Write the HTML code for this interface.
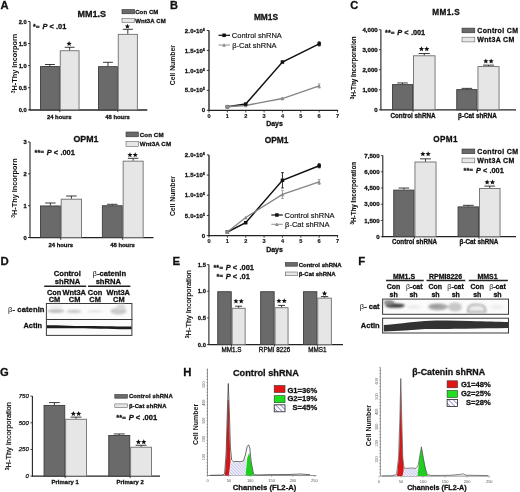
<!DOCTYPE html><html><head><meta charset="utf-8"><style>
html,body{margin:0;padding:0;background:#fff;}
svg{display:block;font-family:"Liberation Sans",sans-serif;will-change:transform;filter:blur(0.3px);}
</style></head><body>
<svg width="520" height="492" viewBox="0 0 520 492">
<rect width="520" height="492" fill="#fff"/>
<text x="0.6" y="8.8" font-size="11.2" text-anchor="start" font-weight="bold" fill="#111" stroke="#111" stroke-width="0.28" >A</text>
<text x="91.7" y="16.7" font-size="9" text-anchor="middle" font-weight="bold" fill="#111" stroke="#111" stroke-width="0.28" >MM1.S</text>
<line x1="30" y1="21.5" x2="30" y2="110.3" stroke="#222" stroke-width="1.1"/>
<line x1="28" y1="109.8" x2="30" y2="109.8" stroke="#222" stroke-width="0.9"/>
<text x="26.7" y="111.88799999999999" font-size="5.8" text-anchor="end" font-weight="bold" fill="#111" stroke="#111" stroke-width="0.28" >0.0</text>
<line x1="28" y1="87.725" x2="30" y2="87.725" stroke="#222" stroke-width="0.9"/>
<text x="26.7" y="89.81299999999999" font-size="5.8" text-anchor="end" font-weight="bold" fill="#111" stroke="#111" stroke-width="0.28" >0.5</text>
<line x1="28" y1="65.65" x2="30" y2="65.65" stroke="#222" stroke-width="0.9"/>
<text x="26.7" y="67.738" font-size="5.8" text-anchor="end" font-weight="bold" fill="#111" stroke="#111" stroke-width="0.28" >1.0</text>
<line x1="28" y1="43.575" x2="30" y2="43.575" stroke="#222" stroke-width="0.9"/>
<text x="26.7" y="45.663000000000004" font-size="5.8" text-anchor="end" font-weight="bold" fill="#111" stroke="#111" stroke-width="0.28" >1.5</text>
<line x1="28" y1="21.5" x2="30" y2="21.5" stroke="#222" stroke-width="0.9"/>
<text x="26.7" y="23.588" font-size="5.8" text-anchor="end" font-weight="bold" fill="#111" stroke="#111" stroke-width="0.28" >2.0</text>
<line x1="29.5" y1="110.0" x2="147.3" y2="110.0" stroke="#222" stroke-width="1.3"/>
<line x1="59.8" y1="109.8" x2="59.8" y2="112.1" stroke="#222" stroke-width="0.9"/>
<line x1="117.8" y1="109.8" x2="117.8" y2="112.1" stroke="#222" stroke-width="0.9"/>
<rect x="40.45" y="66.55" width="18.9" height="43.25" fill="#6a6a6a" stroke="#3c3c3c" stroke-width="0.9"/>
<line x1="49.9" y1="66.1" x2="49.9" y2="64.5" stroke="#222" stroke-width="0.9"/>
<line x1="44.95" y1="64.5" x2="54.849999999999994" y2="64.5" stroke="#222" stroke-width="0.9"/>
<rect x="60.25" y="50.75" width="18.800000000000004" height="59.05" fill="#e6e6e6" stroke="#6e6e6e" stroke-width="0.9"/>
<line x1="69.65" y1="50.3" x2="69.65" y2="47.3" stroke="#222" stroke-width="0.9"/>
<line x1="64.72500000000001" y1="47.3" x2="74.575" y2="47.3" stroke="#222" stroke-width="0.9"/>
<rect x="98.55" y="66.65" width="18.800000000000004" height="43.14999999999999" fill="#6a6a6a" stroke="#3c3c3c" stroke-width="0.9"/>
<line x1="107.94999999999999" y1="66.2" x2="107.94999999999999" y2="62.3" stroke="#222" stroke-width="0.9"/>
<line x1="103.02499999999999" y1="62.3" x2="112.87499999999999" y2="62.3" stroke="#222" stroke-width="0.9"/>
<rect x="118.25" y="34.35" width="19.100000000000016" height="75.45" fill="#e6e6e6" stroke="#6e6e6e" stroke-width="0.9"/>
<line x1="127.80000000000001" y1="33.9" x2="127.80000000000001" y2="29.3" stroke="#222" stroke-width="0.9"/>
<line x1="122.80000000000001" y1="29.3" x2="132.8" y2="29.3" stroke="#222" stroke-width="0.9"/>
<polygon points="69.10,41.05 69.83,42.80 71.72,42.95 70.28,44.18 70.72,46.02 69.10,45.04 67.48,46.02 67.92,44.18 66.48,42.95 68.37,42.80" fill="#111"/>
<polygon points="127.40,23.65 128.13,25.40 130.02,25.55 128.58,26.78 129.02,28.62 127.40,27.64 125.78,28.62 126.22,26.78 124.78,25.55 126.67,25.40" fill="#111"/>
<rect x="122" y="9.5" width="12.6" height="4.3" fill="#6a6a6a" stroke="#333" stroke-width="0.6"/>
<rect x="122" y="18.5" width="12.6" height="4" fill="#e6e6e6" stroke="#666" stroke-width="0.6"/>
<text x="135.2" y="13.9" font-size="6.0" text-anchor="start" font-weight="bold" fill="#111" stroke="#111" stroke-width="0.28" letter-spacing="0.1">Con CM</text>
<text x="135.2" y="22.7" font-size="6.0" text-anchor="start" font-weight="bold" fill="#111" stroke="#111" stroke-width="0.28" letter-spacing="0.1">Wnt3A CM</text>
<text x="39.5" y="28.599999999999998" font-size="5.920000000000001" text-anchor="end" font-weight="bold" fill="#111" stroke="#111" stroke-width="0.28" ><tspan font-size="7.2" dy="0.3" letter-spacing="0.2">*</tspan><tspan dy="-0.3">=</tspan></text>
<text x="42.4" y="28.9" font-size="7.4" text-anchor="start" font-weight="bold" fill="#111" stroke="#111" stroke-width="0.28" font-style="italic">P</text>
<text x="49.4" y="28.9" font-size="7.4" text-anchor="start" font-weight="bold" fill="#111" stroke="#111" stroke-width="0.28" >&lt;</text>
<text x="56.0" y="28.9" font-size="7.4" text-anchor="start" font-weight="bold" fill="#111" stroke="#111" stroke-width="0.28" >.01</text>
<text transform="translate(17.4,63.5) rotate(-90)" font-size="7.3" text-anchor="middle" font-weight="bold" fill="#111" stroke="#111" stroke-width="0.01"><tspan font-size="5" dy="-2.2">3</tspan><tspan dy="2.2">H-Thy Incorporn</tspan></text>
<text x="59.2" y="118.6" font-size="5.9" text-anchor="middle" font-weight="bold" fill="#111" stroke="#111" stroke-width="0.28" >24 hours</text>
<text x="117.5" y="118.6" font-size="5.9" text-anchor="middle" font-weight="bold" fill="#111" stroke="#111" stroke-width="0.28" >48 hours</text>
<text x="86" y="141.8" font-size="8.8" text-anchor="middle" font-weight="bold" fill="#111" stroke="#111" stroke-width="0.28" >OPM1</text>
<line x1="30" y1="142" x2="30" y2="238.0" stroke="#222" stroke-width="1.1"/>
<line x1="28" y1="237.5" x2="30" y2="237.5" stroke="#222" stroke-width="0.9"/>
<text x="26.7" y="239.588" font-size="5.8" text-anchor="end" font-weight="bold" fill="#111" stroke="#111" stroke-width="0.28" >0</text>
<line x1="28" y1="205.66666666666666" x2="30" y2="205.66666666666666" stroke="#222" stroke-width="0.9"/>
<text x="26.7" y="207.75466666666665" font-size="5.8" text-anchor="end" font-weight="bold" fill="#111" stroke="#111" stroke-width="0.28" >1</text>
<line x1="28" y1="173.83333333333334" x2="30" y2="173.83333333333334" stroke="#222" stroke-width="0.9"/>
<text x="26.7" y="175.92133333333334" font-size="5.8" text-anchor="end" font-weight="bold" fill="#111" stroke="#111" stroke-width="0.28" >2</text>
<line x1="28" y1="142.0" x2="30" y2="142.0" stroke="#222" stroke-width="0.9"/>
<text x="26.7" y="144.088" font-size="5.8" text-anchor="end" font-weight="bold" fill="#111" stroke="#111" stroke-width="0.28" >3</text>
<line x1="29.5" y1="237.7" x2="153.5" y2="237.7" stroke="#222" stroke-width="1.3"/>
<line x1="60.75" y1="237.5" x2="60.75" y2="239.8" stroke="#222" stroke-width="0.9"/>
<line x1="122.7" y1="237.5" x2="122.7" y2="239.8" stroke="#222" stroke-width="0.9"/>
<rect x="40.45" y="205.95" width="19.85" height="31.55" fill="#6a6a6a" stroke="#3c3c3c" stroke-width="0.9"/>
<line x1="50.375" y1="205.5" x2="50.375" y2="203" stroke="#222" stroke-width="0.9"/>
<line x1="45.1875" y1="203" x2="55.5625" y2="203" stroke="#222" stroke-width="0.9"/>
<rect x="61.2" y="199.2" width="20.35" height="38.3" fill="#e6e6e6" stroke="#6e6e6e" stroke-width="0.9"/>
<line x1="71.375" y1="198.75" x2="71.375" y2="196" stroke="#222" stroke-width="0.9"/>
<line x1="66.0625" y1="196" x2="76.6875" y2="196" stroke="#222" stroke-width="0.9"/>
<rect x="102.35000000000001" y="205.75" width="19.9" height="31.74999999999999" fill="#6a6a6a" stroke="#3c3c3c" stroke-width="0.9"/>
<line x1="112.30000000000001" y1="205.3" x2="112.30000000000001" y2="204.3" stroke="#222" stroke-width="0.9"/>
<line x1="107.10000000000001" y1="204.3" x2="117.50000000000001" y2="204.3" stroke="#222" stroke-width="0.9"/>
<rect x="123.15" y="161.14999999999998" width="19.999999999999993" height="76.35000000000001" fill="#e6e6e6" stroke="#6e6e6e" stroke-width="0.9"/>
<line x1="133.15" y1="160.7" x2="133.15" y2="158.3" stroke="#222" stroke-width="0.9"/>
<line x1="127.92500000000001" y1="158.3" x2="138.375" y2="158.3" stroke="#222" stroke-width="0.9"/>
<polygon points="129.95,152.15 130.68,153.90 132.57,154.05 131.13,155.28 131.57,157.12 129.95,156.14 128.33,157.12 128.77,155.28 127.33,154.05 129.22,153.90" fill="#111"/>
<polygon points="135.25,152.15 135.98,153.90 137.87,154.05 136.43,155.28 136.87,157.12 135.25,156.14 133.63,157.12 134.07,155.28 132.63,154.05 134.52,153.90" fill="#111"/>
<rect x="126" y="132" width="12.4" height="4.8" fill="#6a6a6a" stroke="#333" stroke-width="0.6"/>
<rect x="126" y="141.5" width="12.4" height="4.8" fill="#e6e6e6" stroke="#666" stroke-width="0.6"/>
<text x="139.7" y="136.5" font-size="6.2" text-anchor="start" font-weight="bold" fill="#111" stroke="#111" stroke-width="0.28" letter-spacing="0.1">Con CM</text>
<text x="139.7" y="146.1" font-size="6.2" text-anchor="start" font-weight="bold" fill="#111" stroke="#111" stroke-width="0.28" letter-spacing="0.1">Wnt3A CM</text>
<text x="43.9" y="154.39999999999998" font-size="5.920000000000001" text-anchor="end" font-weight="bold" fill="#111" stroke="#111" stroke-width="0.28" ><tspan font-size="7.2" dy="0.3" letter-spacing="0.2">**</tspan><tspan dy="-0.3">=</tspan></text>
<text x="46.8" y="154.7" font-size="7.4" text-anchor="start" font-weight="bold" fill="#111" stroke="#111" stroke-width="0.28" font-style="italic">P</text>
<text x="53.8" y="154.7" font-size="7.4" text-anchor="start" font-weight="bold" fill="#111" stroke="#111" stroke-width="0.28" >&lt;</text>
<text x="60.4" y="154.7" font-size="7.4" text-anchor="start" font-weight="bold" fill="#111" stroke="#111" stroke-width="0.28" >.001</text>
<text transform="translate(17.4,188) rotate(-90)" font-size="7.3" text-anchor="middle" font-weight="bold" fill="#111" stroke="#111" stroke-width="0.01"><tspan font-size="5" dy="-2.2">3</tspan><tspan dy="2.2">H-Thy Incorporn</tspan></text>
<text x="60.75" y="246.5" font-size="5.9" text-anchor="middle" font-weight="bold" fill="#111" stroke="#111" stroke-width="0.28" >24 hours</text>
<text x="122.5" y="246.6" font-size="5.9" text-anchor="middle" font-weight="bold" fill="#111" stroke="#111" stroke-width="0.28" >48 hours</text>
<text x="169.9" y="8.8" font-size="11" text-anchor="start" font-weight="bold" fill="#111" stroke="#111" stroke-width="0.28" >B</text>
<line x1="209.0" y1="30.5" x2="209.0" y2="110.89999999999999" stroke="#222" stroke-width="1.35"/>
<line x1="208.4" y1="110.3" x2="338.12" y2="110.3" stroke="#222" stroke-width="1.35"/>
<line x1="209.0" y1="110.3" x2="209.0" y2="112.5" stroke="#222" stroke-width="0.8"/>
<text x="209.0" y="117.7" font-size="5.6" text-anchor="middle" font-weight="bold" fill="#111" stroke="#111" stroke-width="0.15" >0</text>
<line x1="227.36" y1="110.3" x2="227.36" y2="112.5" stroke="#222" stroke-width="0.8"/>
<text x="227.36" y="117.7" font-size="5.6" text-anchor="middle" font-weight="bold" fill="#111" stroke="#111" stroke-width="0.15" >1</text>
<line x1="245.72" y1="110.3" x2="245.72" y2="112.5" stroke="#222" stroke-width="0.8"/>
<text x="245.72" y="117.7" font-size="5.6" text-anchor="middle" font-weight="bold" fill="#111" stroke="#111" stroke-width="0.15" >2</text>
<line x1="264.08" y1="110.3" x2="264.08" y2="112.5" stroke="#222" stroke-width="0.8"/>
<text x="264.08" y="117.7" font-size="5.6" text-anchor="middle" font-weight="bold" fill="#111" stroke="#111" stroke-width="0.15" >3</text>
<line x1="282.44" y1="110.3" x2="282.44" y2="112.5" stroke="#222" stroke-width="0.8"/>
<text x="282.44" y="117.7" font-size="5.6" text-anchor="middle" font-weight="bold" fill="#111" stroke="#111" stroke-width="0.15" >4</text>
<line x1="300.8" y1="110.3" x2="300.8" y2="112.5" stroke="#222" stroke-width="0.8"/>
<text x="300.8" y="117.7" font-size="5.6" text-anchor="middle" font-weight="bold" fill="#111" stroke="#111" stroke-width="0.15" >5</text>
<line x1="319.15999999999997" y1="110.3" x2="319.15999999999997" y2="112.5" stroke="#222" stroke-width="0.8"/>
<text x="319.15999999999997" y="117.7" font-size="5.6" text-anchor="middle" font-weight="bold" fill="#111" stroke="#111" stroke-width="0.15" >6</text>
<line x1="337.52" y1="110.3" x2="337.52" y2="112.5" stroke="#222" stroke-width="0.8"/>
<text x="337.52" y="117.7" font-size="5.6" text-anchor="middle" font-weight="bold" fill="#111" stroke="#111" stroke-width="0.15" >7</text>
<line x1="206.8" y1="110.3" x2="209.0" y2="110.3" stroke="#222" stroke-width="0.9"/>
<text x="205.2" y="112.39999999999999" font-size="6.0" text-anchor="end" font-weight="bold" fill="#111" stroke="#111" stroke-width="0.28" letter-spacing="0.2">0</text>
<line x1="206.8" y1="90.35" x2="209.0" y2="90.35" stroke="#222" stroke-width="0.9"/>
<text x="205.2" y="92.44999999999999" font-size="6.0" text-anchor="end" font-weight="bold" fill="#111" stroke="#111" stroke-width="0.28" letter-spacing="0.2">5.0•10<tspan font-size='3.4' dy='-2'>5</tspan></text>
<line x1="206.8" y1="70.4" x2="209.0" y2="70.4" stroke="#222" stroke-width="0.9"/>
<text x="205.2" y="72.5" font-size="6.0" text-anchor="end" font-weight="bold" fill="#111" stroke="#111" stroke-width="0.28" letter-spacing="0.2">1.0•10<tspan font-size='3.4' dy='-2'>6</tspan></text>
<line x1="206.8" y1="50.45" x2="209.0" y2="50.45" stroke="#222" stroke-width="0.9"/>
<text x="205.2" y="52.550000000000004" font-size="6.0" text-anchor="end" font-weight="bold" fill="#111" stroke="#111" stroke-width="0.28" letter-spacing="0.2">1.5•10<tspan font-size='3.4' dy='-2'>6</tspan></text>
<line x1="206.8" y1="30.5" x2="209.0" y2="30.5" stroke="#222" stroke-width="0.9"/>
<text x="205.2" y="32.6" font-size="6.0" text-anchor="end" font-weight="bold" fill="#111" stroke="#111" stroke-width="0.28" letter-spacing="0.2">2.0•10<tspan font-size='3.4' dy='-2'>6</tspan></text>
<text transform="translate(174.9,65.2) rotate(-90)" font-size="6.8" text-anchor="middle" font-weight="bold" fill="#111">Cell Number</text>
<text x="274.5" y="126.3" font-size="7" text-anchor="middle" font-weight="bold" fill="#111" stroke="#111" stroke-width="0.28" >Days</text>
<text x="266" y="20" font-size="8.4" text-anchor="middle" font-weight="bold" fill="#111" stroke="#111" stroke-width="0.28" >MM1S</text>
<polyline points="227.36,106.709 245.72,104.1155 282.44,62.021 319.15999999999997,43.8665" fill="none" stroke="#111" stroke-width="1.5"/>
<rect x="225.61" y="104.959" width="3.5" height="3.5" fill="#111"/>
<polyline points="227.36,106.709 245.72,105.512 282.44,98.5295 319.15999999999997,85.961" fill="none" stroke="#858585" stroke-width="1.35"/>
<path d="M225.56,108.509 L229.16000000000003,108.509 L227.36,104.909 Z" fill="#8a8a8a"/>
<path d="M243.92,107.312 L247.52,107.312 L245.72,103.712 Z" fill="#8a8a8a"/>
<line x1="282.44" y1="97.7315" x2="282.44" y2="99.3275" stroke="#9a9a9a" stroke-width="0.9"/>
<line x1="281.14" y1="97.7315" x2="283.74" y2="97.7315" stroke="#9a9a9a" stroke-width="0.9"/>
<line x1="281.14" y1="99.3275" x2="283.74" y2="99.3275" stroke="#9a9a9a" stroke-width="0.9"/>
<path d="M280.64,100.3295 L284.24,100.3295 L282.44,96.7295 Z" fill="#8a8a8a"/>
<line x1="319.15999999999997" y1="83.966" x2="319.15999999999997" y2="87.956" stroke="#9a9a9a" stroke-width="0.9"/>
<line x1="317.85999999999996" y1="83.966" x2="320.46" y2="83.966" stroke="#9a9a9a" stroke-width="0.9"/>
<line x1="317.85999999999996" y1="87.956" x2="320.46" y2="87.956" stroke="#9a9a9a" stroke-width="0.9"/>
<path d="M317.35999999999996,87.761 L320.96,87.761 L319.15999999999997,84.161 Z" fill="#8a8a8a"/>
<rect x="243.97" y="102.3655" width="3.5" height="3.5" fill="#111"/>
<rect x="280.69" y="60.271" width="3.5" height="3.5" fill="#111"/>
<line x1="319.15999999999997" y1="41.8715" x2="319.15999999999997" y2="45.86150000000001" stroke="#111" stroke-width="0.9"/>
<line x1="317.85999999999996" y1="41.8715" x2="320.46" y2="41.8715" stroke="#111" stroke-width="0.9"/>
<line x1="317.85999999999996" y1="45.86150000000001" x2="320.46" y2="45.86150000000001" stroke="#111" stroke-width="0.9"/>
<rect x="317.40999999999997" y="42.1165" width="3.5" height="3.5" fill="#111"/>
<circle cx="227.36" cy="106.709" r="1.9" fill="#8a8a8a"/>
<line x1="218.5" y1="35.3" x2="230.0" y2="35.3" stroke="#222" stroke-width="1.3"/>
<rect x="222.35" y="33.55" width="3.5" height="3.5" fill="#111"/>
<line x1="218.5" y1="45" x2="230.0" y2="45" stroke="#9a9a9a" stroke-width="1.1"/>
<path d="M222.29999999999998,46.8 L225.9,46.8 L224.1,43.2 Z" fill="#8a8a8a"/>
<text x="231.8" y="37.9" font-size="7.5" text-anchor="start" font-weight="normal" fill="#111" stroke="#111" stroke-width="0.15">Control shRNA</text>
<text x="232.3" y="47.6" font-size="7.5" text-anchor="start" font-weight="normal" fill="#111" stroke="#111" stroke-width="0.15">β-Cat shRNA</text>
<line x1="209.0" y1="154.9" x2="209.0" y2="236.2" stroke="#222" stroke-width="1.35"/>
<line x1="208.4" y1="235.6" x2="338.12" y2="235.6" stroke="#222" stroke-width="1.35"/>
<line x1="209.0" y1="235.6" x2="209.0" y2="237.79999999999998" stroke="#222" stroke-width="0.8"/>
<text x="209.0" y="243.0" font-size="5.6" text-anchor="middle" font-weight="bold" fill="#111" stroke="#111" stroke-width="0.15" >0</text>
<line x1="227.36" y1="235.6" x2="227.36" y2="237.79999999999998" stroke="#222" stroke-width="0.8"/>
<text x="227.36" y="243.0" font-size="5.6" text-anchor="middle" font-weight="bold" fill="#111" stroke="#111" stroke-width="0.15" >1</text>
<line x1="245.72" y1="235.6" x2="245.72" y2="237.79999999999998" stroke="#222" stroke-width="0.8"/>
<text x="245.72" y="243.0" font-size="5.6" text-anchor="middle" font-weight="bold" fill="#111" stroke="#111" stroke-width="0.15" >2</text>
<line x1="264.08" y1="235.6" x2="264.08" y2="237.79999999999998" stroke="#222" stroke-width="0.8"/>
<text x="264.08" y="243.0" font-size="5.6" text-anchor="middle" font-weight="bold" fill="#111" stroke="#111" stroke-width="0.15" >3</text>
<line x1="282.44" y1="235.6" x2="282.44" y2="237.79999999999998" stroke="#222" stroke-width="0.8"/>
<text x="282.44" y="243.0" font-size="5.6" text-anchor="middle" font-weight="bold" fill="#111" stroke="#111" stroke-width="0.15" >4</text>
<line x1="300.8" y1="235.6" x2="300.8" y2="237.79999999999998" stroke="#222" stroke-width="0.8"/>
<text x="300.8" y="243.0" font-size="5.6" text-anchor="middle" font-weight="bold" fill="#111" stroke="#111" stroke-width="0.15" >5</text>
<line x1="319.15999999999997" y1="235.6" x2="319.15999999999997" y2="237.79999999999998" stroke="#222" stroke-width="0.8"/>
<text x="319.15999999999997" y="243.0" font-size="5.6" text-anchor="middle" font-weight="bold" fill="#111" stroke="#111" stroke-width="0.15" >6</text>
<line x1="337.52" y1="235.6" x2="337.52" y2="237.79999999999998" stroke="#222" stroke-width="0.8"/>
<text x="337.52" y="243.0" font-size="5.6" text-anchor="middle" font-weight="bold" fill="#111" stroke="#111" stroke-width="0.15" >7</text>
<line x1="206.8" y1="235.6" x2="209.0" y2="235.6" stroke="#222" stroke-width="0.9"/>
<text x="205.2" y="237.7" font-size="6.0" text-anchor="end" font-weight="bold" fill="#111" stroke="#111" stroke-width="0.28" letter-spacing="0.2">0</text>
<line x1="206.8" y1="215.425" x2="209.0" y2="215.425" stroke="#222" stroke-width="0.9"/>
<text x="205.2" y="217.525" font-size="6.0" text-anchor="end" font-weight="bold" fill="#111" stroke="#111" stroke-width="0.28" letter-spacing="0.2">5.0•10<tspan font-size='3.4' dy='-2'>5</tspan></text>
<line x1="206.8" y1="195.25" x2="209.0" y2="195.25" stroke="#222" stroke-width="0.9"/>
<text x="205.2" y="197.35" font-size="6.0" text-anchor="end" font-weight="bold" fill="#111" stroke="#111" stroke-width="0.28" letter-spacing="0.2">1.0•10<tspan font-size='3.4' dy='-2'>6</tspan></text>
<line x1="206.8" y1="175.075" x2="209.0" y2="175.075" stroke="#222" stroke-width="0.9"/>
<text x="205.2" y="177.17499999999998" font-size="6.0" text-anchor="end" font-weight="bold" fill="#111" stroke="#111" stroke-width="0.28" letter-spacing="0.2">1.5•10<tspan font-size='3.4' dy='-2'>6</tspan></text>
<line x1="206.8" y1="154.9" x2="209.0" y2="154.9" stroke="#222" stroke-width="0.9"/>
<text x="205.2" y="157.0" font-size="6.0" text-anchor="end" font-weight="bold" fill="#111" stroke="#111" stroke-width="0.28" letter-spacing="0.2">2.0•10<tspan font-size='3.4' dy='-2'>6</tspan></text>
<text transform="translate(174.9,196.1) rotate(-90)" font-size="6.8" text-anchor="middle" font-weight="bold" fill="#111">Cell Number</text>
<text x="274.5" y="251.6" font-size="7" text-anchor="middle" font-weight="bold" fill="#111" stroke="#111" stroke-width="0.28" >Days</text>
<text x="276.5" y="142.9" font-size="8.4" text-anchor="middle" font-weight="bold" fill="#111" stroke="#111" stroke-width="0.28" >OPM1</text>
<polyline points="227.36,231.9685 245.72,222.688 282.44,180.32049999999998 319.15999999999997,165.7945" fill="none" stroke="#111" stroke-width="1.5"/>
<rect x="225.61" y="230.2185" width="3.5" height="3.5" fill="#111"/>
<polyline points="227.36,231.9685 245.72,217.4425 282.44,194.44299999999998 319.15999999999997,181.9345" fill="none" stroke="#858585" stroke-width="1.35"/>
<path d="M225.56,233.76850000000002 L229.16000000000003,233.76850000000002 L227.36,230.1685 Z" fill="#8a8a8a"/>
<path d="M243.92,219.2425 L247.52,219.2425 L245.72,215.64249999999998 Z" fill="#8a8a8a"/>
<line x1="282.44" y1="190.408" x2="282.44" y2="198.478" stroke="#9a9a9a" stroke-width="0.9"/>
<line x1="281.14" y1="190.408" x2="283.74" y2="190.408" stroke="#9a9a9a" stroke-width="0.9"/>
<line x1="281.14" y1="198.478" x2="283.74" y2="198.478" stroke="#9a9a9a" stroke-width="0.9"/>
<path d="M280.64,196.243 L284.24,196.243 L282.44,192.64299999999997 Z" fill="#8a8a8a"/>
<line x1="319.15999999999997" y1="179.5135" x2="319.15999999999997" y2="184.3555" stroke="#9a9a9a" stroke-width="0.9"/>
<line x1="317.85999999999996" y1="179.5135" x2="320.46" y2="179.5135" stroke="#9a9a9a" stroke-width="0.9"/>
<line x1="317.85999999999996" y1="184.3555" x2="320.46" y2="184.3555" stroke="#9a9a9a" stroke-width="0.9"/>
<path d="M317.35999999999996,183.73450000000003 L320.96,183.73450000000003 L319.15999999999997,180.1345 Z" fill="#8a8a8a"/>
<rect x="243.97" y="220.938" width="3.5" height="3.5" fill="#111"/>
<line x1="282.44" y1="172.654" x2="282.44" y2="187.987" stroke="#111" stroke-width="0.9"/>
<line x1="281.14" y1="172.654" x2="283.74" y2="172.654" stroke="#111" stroke-width="0.9"/>
<line x1="281.14" y1="187.987" x2="283.74" y2="187.987" stroke="#111" stroke-width="0.9"/>
<rect x="280.69" y="178.57049999999998" width="3.5" height="3.5" fill="#111"/>
<line x1="319.15999999999997" y1="163.777" x2="319.15999999999997" y2="167.812" stroke="#111" stroke-width="0.9"/>
<line x1="317.85999999999996" y1="163.777" x2="320.46" y2="163.777" stroke="#111" stroke-width="0.9"/>
<line x1="317.85999999999996" y1="167.812" x2="320.46" y2="167.812" stroke="#111" stroke-width="0.9"/>
<rect x="317.40999999999997" y="164.0445" width="3.5" height="3.5" fill="#111"/>
<circle cx="227.36" cy="231.9685" r="1.9" fill="#8a8a8a"/>
<line x1="271.3" y1="215" x2="282.8" y2="215" stroke="#222" stroke-width="1.3"/>
<rect x="275.15000000000003" y="213.25" width="3.5" height="3.5" fill="#111"/>
<line x1="271.3" y1="224.3" x2="282.8" y2="224.3" stroke="#9a9a9a" stroke-width="1.1"/>
<path d="M275.1,226.10000000000002 L278.70000000000005,226.10000000000002 L276.90000000000003,222.5 Z" fill="#8a8a8a"/>
<text x="284.6" y="217.6" font-size="7.5" text-anchor="start" font-weight="normal" fill="#111" stroke="#111" stroke-width="0.15">Control shRNA</text>
<text x="285.1" y="226.9" font-size="7.5" text-anchor="start" font-weight="normal" fill="#111" stroke="#111" stroke-width="0.15">β-Cat shRNA</text>
<text x="350.2" y="8.9" font-size="11" text-anchor="start" font-weight="bold" fill="#111" stroke="#111" stroke-width="0.28" >C</text>
<line x1="380.9" y1="29.7" x2="380.9" y2="110.3" stroke="#222" stroke-width="1.1"/>
<line x1="380.4" y1="109.8" x2="516" y2="109.8" stroke="#222" stroke-width="1.2"/>
<line x1="378.9" y1="109.8" x2="380.9" y2="109.8" stroke="#222" stroke-width="0.8"/>
<text x="377.7" y="111.89999999999999" font-size="6.1" text-anchor="end" font-weight="bold" fill="#111" stroke="#111" stroke-width="0.28" >0</text>
<line x1="378.9" y1="89.775" x2="380.9" y2="89.775" stroke="#222" stroke-width="0.8"/>
<text x="377.7" y="91.875" font-size="6.1" text-anchor="end" font-weight="bold" fill="#111" stroke="#111" stroke-width="0.28" >1,000</text>
<line x1="378.9" y1="69.75" x2="380.9" y2="69.75" stroke="#222" stroke-width="0.8"/>
<text x="377.7" y="71.85" font-size="6.1" text-anchor="end" font-weight="bold" fill="#111" stroke="#111" stroke-width="0.28" >2,000</text>
<line x1="378.9" y1="49.725" x2="380.9" y2="49.725" stroke="#222" stroke-width="0.8"/>
<text x="377.7" y="51.825" font-size="6.1" text-anchor="end" font-weight="bold" fill="#111" stroke="#111" stroke-width="0.28" >3,000</text>
<line x1="378.9" y1="29.700000000000003" x2="380.9" y2="29.700000000000003" stroke="#222" stroke-width="0.8"/>
<text x="377.7" y="31.800000000000004" font-size="6.1" text-anchor="end" font-weight="bold" fill="#111" stroke="#111" stroke-width="0.28" >4,000</text>
<rect x="392.45" y="84.618" width="20.1" height="25.182000000000006" fill="#6a6a6a" stroke="#3c3c3c" stroke-width="0.9"/>
<line x1="402.5" y1="84.16799999999999" x2="402.5" y2="82.9665" stroke="#222" stroke-width="0.9"/>
<line x1="397.25" y1="82.9665" x2="407.75" y2="82.9665" stroke="#222" stroke-width="0.9"/>
<rect x="413.45" y="55.78200000000001" width="21.6" height="54.01799999999999" fill="#e6e6e6" stroke="#6e6e6e" stroke-width="0.9"/>
<line x1="424.25" y1="55.33200000000001" x2="424.25" y2="53.52975000000001" stroke="#222" stroke-width="0.9"/>
<line x1="418.625" y1="53.52975000000001" x2="429.875" y2="53.52975000000001" stroke="#222" stroke-width="0.9"/>
<rect x="456.75" y="89.62425" width="20.29999999999999" height="20.175749999999997" fill="#6a6a6a" stroke="#3c3c3c" stroke-width="0.9"/>
<line x1="466.9" y1="89.17425" x2="466.9" y2="88.37325" stroke="#222" stroke-width="0.9"/>
<line x1="461.59999999999997" y1="88.37325" x2="472.2" y2="88.37325" stroke="#222" stroke-width="0.9"/>
<rect x="477.95" y="66.5955" width="21.1" height="43.204499999999996" fill="#e6e6e6" stroke="#6e6e6e" stroke-width="0.9"/>
<line x1="488.5" y1="66.1455" x2="488.5" y2="65.14425" stroke="#222" stroke-width="0.9"/>
<line x1="483.0" y1="65.14425" x2="494.0" y2="65.14425" stroke="#222" stroke-width="0.9"/>
<line x1="413" y1="109.8" x2="413" y2="111.8" stroke="#222" stroke-width="0.8"/>
<line x1="477.5" y1="109.8" x2="477.5" y2="111.8" stroke="#222" stroke-width="0.8"/>
<text x="413" y="117.5" font-size="6.3" text-anchor="middle" font-weight="bold" fill="#111" stroke="#111" stroke-width="0.28" >Control shRNA</text>
<text x="477.5" y="117.5" font-size="6.3" text-anchor="middle" font-weight="bold" fill="#111" stroke="#111" stroke-width="0.28" >β-Cat shRNA</text>
<text x="446.2" y="14.8" font-size="8.2" text-anchor="middle" font-weight="bold" fill="#111" stroke="#111" stroke-width="0.28" letter-spacing="0.35">MM1.S</text>
<text transform="translate(356.3,67.8) rotate(-90)" font-size="6.3" text-anchor="middle" font-weight="bold" fill="#111" stroke="#111" stroke-width="0.12"><tspan font-size="4.6" dy="-2">3</tspan><tspan dy="2">H-Thy Incorporation</tspan></text>
<rect x="462" y="28.1" width="12.8" height="4.7" fill="#6a6a6a" stroke="#333" stroke-width="0.6"/>
<rect x="462" y="37.2" width="12.8" height="4.7" fill="#e6e6e6" stroke="#666" stroke-width="0.6"/>
<text x="477.3" y="33.0" font-size="7" text-anchor="start" font-weight="bold" fill="#111" stroke="#111" stroke-width="0.28" letter-spacing="0.33">Control CM</text>
<text x="477.3" y="42.1" font-size="7" text-anchor="start" font-weight="bold" fill="#111" stroke="#111" stroke-width="0.28" letter-spacing="0.33">Wnt3A CM</text>
<text x="394.40000000000003" y="34.900000000000006" font-size="5.84" text-anchor="end" font-weight="bold" fill="#111" stroke="#111" stroke-width="0.28" ><tspan font-size="7.2" dy="0.3" letter-spacing="0.2">**</tspan><tspan dy="-0.3">=</tspan></text>
<text x="397.3" y="35.2" font-size="7.3" text-anchor="start" font-weight="bold" fill="#111" stroke="#111" stroke-width="0.28" font-style="italic">P</text>
<text x="404.3" y="35.2" font-size="7.3" text-anchor="start" font-weight="bold" fill="#111" stroke="#111" stroke-width="0.28" >&lt;</text>
<text x="410.90000000000003" y="35.2" font-size="7.3" text-anchor="start" font-weight="bold" fill="#111" stroke="#111" stroke-width="0.28" >.001</text>
<polygon points="421.45,46.25 422.18,48.00 424.07,48.15 422.63,49.38 423.07,51.22 421.45,50.24 419.83,51.22 420.27,49.38 418.83,48.15 420.72,48.00" fill="#111"/>
<polygon points="426.75,46.25 427.48,48.00 429.37,48.15 427.93,49.38 428.37,51.22 426.75,50.24 425.13,51.22 425.57,49.38 424.13,48.15 426.02,48.00" fill="#111"/>
<polygon points="485.85,58.45 486.58,60.20 488.47,60.35 487.03,61.58 487.47,63.42 485.85,62.44 484.23,63.42 484.67,61.58 483.23,60.35 485.12,60.20" fill="#111"/>
<polygon points="491.15,58.45 491.88,60.20 493.77,60.35 492.33,61.58 492.77,63.42 491.15,62.44 489.53,63.42 489.97,61.58 488.53,60.35 490.42,60.20" fill="#111"/>
<line x1="382.8" y1="155.6" x2="382.8" y2="237.2" stroke="#222" stroke-width="1.1"/>
<line x1="382.3" y1="236.7" x2="516" y2="236.7" stroke="#222" stroke-width="1.2"/>
<line x1="380.8" y1="236.7" x2="382.8" y2="236.7" stroke="#222" stroke-width="0.8"/>
<text x="379.6" y="238.79999999999998" font-size="6.1" text-anchor="end" font-weight="bold" fill="#111" stroke="#111" stroke-width="0.28" >0</text>
<line x1="380.8" y1="220.48" x2="382.8" y2="220.48" stroke="#222" stroke-width="0.8"/>
<text x="379.6" y="222.57999999999998" font-size="6.1" text-anchor="end" font-weight="bold" fill="#111" stroke="#111" stroke-width="0.28" >1,500</text>
<line x1="380.8" y1="204.26" x2="382.8" y2="204.26" stroke="#222" stroke-width="0.8"/>
<text x="379.6" y="206.35999999999999" font-size="6.1" text-anchor="end" font-weight="bold" fill="#111" stroke="#111" stroke-width="0.28" >3,000</text>
<line x1="380.8" y1="188.04" x2="382.8" y2="188.04" stroke="#222" stroke-width="0.8"/>
<text x="379.6" y="190.14" font-size="6.1" text-anchor="end" font-weight="bold" fill="#111" stroke="#111" stroke-width="0.28" >4,500</text>
<line x1="380.8" y1="171.82" x2="382.8" y2="171.82" stroke="#222" stroke-width="0.8"/>
<text x="379.6" y="173.92" font-size="6.1" text-anchor="end" font-weight="bold" fill="#111" stroke="#111" stroke-width="0.28" >6,000</text>
<line x1="380.8" y1="155.6" x2="382.8" y2="155.6" stroke="#222" stroke-width="0.8"/>
<text x="379.6" y="157.7" font-size="6.1" text-anchor="end" font-weight="bold" fill="#111" stroke="#111" stroke-width="0.28" >7,500</text>
<rect x="393.75" y="190.11199999999997" width="20.29999999999999" height="46.58800000000001" fill="#6a6a6a" stroke="#3c3c3c" stroke-width="0.9"/>
<line x1="403.9" y1="189.66199999999998" x2="403.9" y2="188.04" stroke="#222" stroke-width="0.9"/>
<line x1="398.59999999999997" y1="188.04" x2="409.2" y2="188.04" stroke="#222" stroke-width="0.9"/>
<rect x="414.95" y="161.9973333333333" width="21.1" height="74.70266666666667" fill="#e6e6e6" stroke="#6e6e6e" stroke-width="0.9"/>
<line x1="425.5" y1="161.5473333333333" x2="425.5" y2="158.844" stroke="#222" stroke-width="0.9"/>
<line x1="420.0" y1="158.844" x2="431.0" y2="158.844" stroke="#222" stroke-width="0.9"/>
<rect x="458.05" y="206.87266666666665" width="20.49999999999998" height="29.827333333333332" fill="#6a6a6a" stroke="#3c3c3c" stroke-width="0.9"/>
<line x1="468.3" y1="206.42266666666666" x2="468.3" y2="205.34133333333332" stroke="#222" stroke-width="0.9"/>
<line x1="462.95000000000005" y1="205.34133333333332" x2="473.65" y2="205.34133333333332" stroke="#222" stroke-width="0.9"/>
<rect x="479.45" y="188.48999999999998" width="20.6" height="48.209999999999994" fill="#e6e6e6" stroke="#6e6e6e" stroke-width="0.9"/>
<line x1="489.75" y1="188.04" x2="489.75" y2="186.09359999999998" stroke="#222" stroke-width="0.9"/>
<line x1="484.375" y1="186.09359999999998" x2="495.125" y2="186.09359999999998" stroke="#222" stroke-width="0.9"/>
<line x1="414.5" y1="236.7" x2="414.5" y2="238.7" stroke="#222" stroke-width="0.8"/>
<line x1="479" y1="236.7" x2="479" y2="238.7" stroke="#222" stroke-width="0.8"/>
<text x="414.5" y="244.39999999999998" font-size="6.3" text-anchor="middle" font-weight="bold" fill="#111" stroke="#111" stroke-width="0.28" >Control shRNA</text>
<text x="479" y="244.39999999999998" font-size="6.3" text-anchor="middle" font-weight="bold" fill="#111" stroke="#111" stroke-width="0.28" >β-Cat shRNA</text>
<text x="445.6" y="141.8" font-size="8.2" text-anchor="middle" font-weight="bold" fill="#111" stroke="#111" stroke-width="0.28" letter-spacing="0.35">OPM1</text>
<text transform="translate(356.3,193.2) rotate(-90)" font-size="6.3" text-anchor="middle" font-weight="bold" fill="#111" stroke="#111" stroke-width="0.12"><tspan font-size="4.6" dy="-2">3</tspan><tspan dy="2">H-Thy Incorporation</tspan></text>
<rect x="462" y="149" width="12.8" height="4.7" fill="#6a6a6a" stroke="#333" stroke-width="0.6"/>
<rect x="462" y="158.1" width="12.8" height="4.7" fill="#e6e6e6" stroke="#666" stroke-width="0.6"/>
<text x="477.3" y="153.9" font-size="7" text-anchor="start" font-weight="bold" fill="#111" stroke="#111" stroke-width="0.28" letter-spacing="0.33">Control CM</text>
<text x="477.3" y="163" font-size="7" text-anchor="start" font-weight="bold" fill="#111" stroke="#111" stroke-width="0.28" letter-spacing="0.33">Wnt3A CM</text>
<text x="473.0" y="172.39999999999998" font-size="5.84" text-anchor="end" font-weight="bold" fill="#111" stroke="#111" stroke-width="0.28" ><tspan font-size="7.2" dy="0.3" letter-spacing="0.2">**</tspan><tspan dy="-0.3">=</tspan></text>
<text x="475.9" y="172.7" font-size="7.3" text-anchor="start" font-weight="bold" fill="#111" stroke="#111" stroke-width="0.28" font-style="italic">P</text>
<text x="482.9" y="172.7" font-size="7.3" text-anchor="start" font-weight="bold" fill="#111" stroke="#111" stroke-width="0.28" >&lt;</text>
<text x="489.5" y="172.7" font-size="7.3" text-anchor="start" font-weight="bold" fill="#111" stroke="#111" stroke-width="0.28" >.001</text>
<polygon points="422.85,151.35 423.58,153.10 425.47,153.25 424.03,154.48 424.47,156.32 422.85,155.34 421.23,156.32 421.67,154.48 420.23,153.25 422.12,153.10" fill="#111"/>
<polygon points="428.15,151.35 428.88,153.10 430.77,153.25 429.33,154.48 429.77,156.32 428.15,155.34 426.53,156.32 426.97,154.48 425.53,153.25 427.42,153.10" fill="#111"/>
<polygon points="487.15,179.55 487.88,181.30 489.77,181.45 488.33,182.68 488.77,184.52 487.15,183.54 485.53,184.52 485.97,182.68 484.53,181.45 486.42,181.30" fill="#111"/>
<polygon points="492.45,179.55 493.18,181.30 495.07,181.45 493.63,182.68 494.07,184.52 492.45,183.54 490.83,184.52 491.27,182.68 489.83,181.45 491.72,181.30" fill="#111"/>
<text x="0.4" y="264.6" font-size="11.4" text-anchor="start" font-weight="bold" fill="#111" stroke="#111" stroke-width="0.28" >D</text>
<text x="67.3" y="275.8" font-size="7.6" text-anchor="middle" font-weight="bold" fill="#111" stroke="#111" stroke-width="0.28" >Control</text>
<text x="67.5" y="284.1" font-size="7.6" text-anchor="middle" font-weight="bold" fill="#111" stroke="#111" stroke-width="0.28" >shRNA</text>
<text x="109.3" y="275.8" font-size="7.6" text-anchor="middle" font-weight="bold" fill="#111" stroke="#111" stroke-width="0.28" ><tspan font-weight="normal" stroke-width="0">β</tspan>-catenin</text>
<text x="108.3" y="284.1" font-size="7.6" text-anchor="middle" font-weight="bold" fill="#111" stroke="#111" stroke-width="0.28" >shRNA</text>
<line x1="44.2" y1="286.2" x2="86.2" y2="286.2" stroke="#222" stroke-width="1.4"/>
<line x1="88" y1="286.2" x2="130.4" y2="286.2" stroke="#222" stroke-width="1.4"/>
<text x="54.1" y="294.7" font-size="7.4" text-anchor="middle" font-weight="bold" fill="#111" stroke="#111" stroke-width="0.28" >Con</text>
<text x="74.2" y="294.7" font-size="7.4" text-anchor="middle" font-weight="bold" fill="#111" stroke="#111" stroke-width="0.28" >Wnt3A</text>
<text x="95" y="294.7" font-size="7.4" text-anchor="middle" font-weight="bold" fill="#111" stroke="#111" stroke-width="0.28" >Con</text>
<text x="118.2" y="294.7" font-size="7.4" text-anchor="middle" font-weight="bold" fill="#111" stroke="#111" stroke-width="0.28" >Wnt3A</text>
<text x="54.5" y="302.4" font-size="7.4" text-anchor="middle" font-weight="bold" fill="#111" stroke="#111" stroke-width="0.28" >CM</text>
<text x="74.6" y="302.4" font-size="7.4" text-anchor="middle" font-weight="bold" fill="#111" stroke="#111" stroke-width="0.28" >CM</text>
<text x="95.1" y="302.4" font-size="7.4" text-anchor="middle" font-weight="bold" fill="#111" stroke="#111" stroke-width="0.28" >CM</text>
<text x="118.8" y="302.4" font-size="7.4" text-anchor="middle" font-weight="bold" fill="#111" stroke="#111" stroke-width="0.28" >CM</text>
<defs><filter id="blur1" x="-20%" y="-50%" width="140%" height="200%"><feGaussianBlur stdDeviation="1.2"/></filter><filter id="blur2" x="-20%" y="-50%" width="140%" height="200%"><feGaussianBlur stdDeviation="0.6"/></filter><pattern id="hatchL" width="3.4" height="3.4" patternUnits="userSpaceOnUse" patternTransform="rotate(-45)"><rect width="3.4" height="3.4" fill="#fbfbff"/><line x1="0" y1="0" x2="0" y2="3.4" stroke="#2a2a8a" stroke-width="0.9"/></pattern><pattern id="hatch" width="2.2" height="2.2" patternUnits="userSpaceOnUse" patternTransform="rotate(-45)"><rect width="2.2" height="2.2" fill="#eeeefa"/><line x1="0" y1="0" x2="0" y2="2.2" stroke="#7c7cc8" stroke-width="0.6"/></pattern></defs>
<rect x="46.4" y="303.5" width="85.5" height="16" fill="#fbfbfb" stroke="#3a3a3a" stroke-width="1.0"/>
<rect x="46.4" y="319.5" width="85.5" height="15.9" fill="#fbfbfb" stroke="#3a3a3a" stroke-width="1.0"/>
<g filter="url(#blur1)"><ellipse cx="56" cy="311" rx="8.5" ry="1.9" fill="#bdbdbd"/><ellipse cx="56" cy="306.3" rx="7" ry="1" fill="#e4e4e4"/><ellipse cx="74" cy="311.4" rx="7.5" ry="1.7" fill="#c6c6c6"/><ellipse cx="95" cy="311.2" rx="8" ry="0.8" fill="#d6d6d6"/><ellipse cx="118.5" cy="311.2" rx="8" ry="3.3" fill="#c8c8c8"/><ellipse cx="121" cy="307" rx="4.5" ry="3" fill="#dadada"/></g>
<path d="M47,325.3 C58,325.1 66,326.1 76,326 C86,325.9 96,326.2 106,326.2 C116,326.4 124,326.6 131.5,326.5 L131.5,329.2 C120,329.3 110,328.8 100,328.7 C88,328.6 78,328.5 68,328.3 C60,328.1 54,328.1 47,328.3 Z" fill="#1c1c1c" filter="url(#blur2)"/>
<text x="44.6" y="312" font-size="7.6" text-anchor="end" font-weight="bold" fill="#111" stroke="#111" stroke-width="0.28" letter-spacing="0.1"><tspan font-weight="normal" stroke-width="0">β</tspan>- catenin</text>
<text x="42" y="327.6" font-size="7.4" text-anchor="end" font-weight="bold" fill="#111" stroke="#111" stroke-width="0.28" >Actin</text>
<text x="172.5" y="264.8" font-size="11.4" text-anchor="start" font-weight="bold" fill="#111" stroke="#111" stroke-width="0.28" >E</text>
<line x1="208.9" y1="264.6" x2="208.9" y2="345.1" stroke="#222" stroke-width="1.1"/>
<line x1="208.4" y1="344.6" x2="343" y2="344.6" stroke="#222" stroke-width="1.2"/>
<line x1="206.9" y1="344.6" x2="208.9" y2="344.6" stroke="#222" stroke-width="0.8"/>
<text x="205.9" y="346.6" font-size="5.8" text-anchor="end" font-weight="bold" fill="#111" stroke="#111" stroke-width="0.28" >0.0</text>
<line x1="206.9" y1="317.93333333333334" x2="208.9" y2="317.93333333333334" stroke="#222" stroke-width="0.8"/>
<text x="205.9" y="319.93333333333334" font-size="5.8" text-anchor="end" font-weight="bold" fill="#111" stroke="#111" stroke-width="0.28" >0.5</text>
<line x1="206.9" y1="291.2666666666667" x2="208.9" y2="291.2666666666667" stroke="#222" stroke-width="0.8"/>
<text x="205.9" y="293.2666666666667" font-size="5.8" text-anchor="end" font-weight="bold" fill="#111" stroke="#111" stroke-width="0.28" >1.0</text>
<line x1="206.9" y1="264.6" x2="208.9" y2="264.6" stroke="#222" stroke-width="0.8"/>
<text x="205.9" y="266.6" font-size="5.8" text-anchor="end" font-weight="bold" fill="#111" stroke="#111" stroke-width="0.28" >1.5</text>
<rect x="217.75" y="291.7166666666667" width="13.499999999999977" height="52.88333333333331" fill="#6a6a6a" stroke="#3c3c3c" stroke-width="0.9"/>
<rect x="232.14999999999998" y="308.25" width="13.000000000000005" height="36.35000000000001" fill="#e6e6e6" stroke="#6e6e6e" stroke-width="0.9"/>
<line x1="238.64999999999998" y1="307.8" x2="238.64999999999998" y2="306.20000000000005" stroke="#222" stroke-width="0.9"/>
<line x1="235.17499999999998" y1="306.20000000000005" x2="242.12499999999997" y2="306.20000000000005" stroke="#222" stroke-width="0.9"/>
<rect x="260.65" y="291.7166666666667" width="13.500000000000034" height="52.88333333333331" fill="#6a6a6a" stroke="#3c3c3c" stroke-width="0.9"/>
<rect x="275.05" y="307.7166666666667" width="12.999999999999977" height="36.88333333333331" fill="#e6e6e6" stroke="#6e6e6e" stroke-width="0.9"/>
<line x1="281.55" y1="307.2666666666667" x2="281.55" y2="305.40000000000003" stroke="#222" stroke-width="0.9"/>
<line x1="278.07500000000005" y1="305.40000000000003" x2="285.025" y2="305.40000000000003" stroke="#222" stroke-width="0.9"/>
<rect x="303.45" y="291.7166666666667" width="13.400000000000011" height="52.88333333333331" fill="#6a6a6a" stroke="#3c3c3c" stroke-width="0.9"/>
<rect x="317.75" y="298.1166666666667" width="13.6" height="46.483333333333334" fill="#e6e6e6" stroke="#6e6e6e" stroke-width="0.9"/>
<line x1="324.55" y1="297.6666666666667" x2="324.55" y2="296.6" stroke="#222" stroke-width="0.9"/>
<line x1="320.925" y1="296.6" x2="328.175" y2="296.6" stroke="#222" stroke-width="0.9"/>
<polygon points="235.95,298.45 236.68,300.20 238.57,300.35 237.13,301.58 237.57,303.42 235.95,302.44 234.33,303.42 234.77,301.58 233.33,300.35 235.22,300.20" fill="#111"/>
<polygon points="241.25,298.45 241.98,300.20 243.87,300.35 242.43,301.58 242.87,303.42 241.25,302.44 239.63,303.42 240.07,301.58 238.63,300.35 240.52,300.20" fill="#111"/>
<polygon points="278.95,298.15 279.68,299.90 281.57,300.05 280.13,301.28 280.57,303.12 278.95,302.14 277.33,303.12 277.77,301.28 276.33,300.05 278.22,299.90" fill="#111"/>
<polygon points="284.25,298.15 284.98,299.90 286.87,300.05 285.43,301.28 285.87,303.12 284.25,302.14 282.63,303.12 283.07,301.28 281.63,300.05 283.52,299.90" fill="#111"/>
<polygon points="324.50,290.85 325.23,292.60 327.12,292.75 325.68,293.98 326.12,295.82 324.50,294.84 322.88,295.82 323.32,293.98 321.88,292.75 323.77,292.60" fill="#111"/>
<line x1="231.5" y1="344.6" x2="231.5" y2="346.6" stroke="#222" stroke-width="0.8"/>
<text x="231.5" y="352.1" font-size="6.3" text-anchor="middle" font-weight="normal" fill="#111" stroke="#111" stroke-width="0.3">MM1.S</text>
<line x1="274.6" y1="344.6" x2="274.6" y2="346.6" stroke="#222" stroke-width="0.8"/>
<text x="274.6" y="352.1" font-size="6.3" text-anchor="middle" font-weight="normal" fill="#111" stroke="#111" stroke-width="0.3">RPMI 8226</text>
<line x1="317.3" y1="344.6" x2="317.3" y2="346.6" stroke="#222" stroke-width="0.8"/>
<text x="317.3" y="352.1" font-size="6.3" text-anchor="middle" font-weight="normal" fill="#111" stroke="#111" stroke-width="0.3">MMS1</text>
<rect x="285.3" y="262.5" width="12.1" height="3.7" fill="#6a6a6a" stroke="#333" stroke-width="0.6"/>
<rect x="285.3" y="272" width="12.1" height="3.7" fill="#e6e6e6" stroke="#666" stroke-width="0.6"/>
<text x="298.7" y="266.8" font-size="6" text-anchor="start" font-weight="bold" fill="#111" stroke="#111" stroke-width="0.28" >Control shRNA</text>
<text x="298.7" y="276.2" font-size="6" text-anchor="start" font-weight="bold" fill="#111" stroke="#111" stroke-width="0.28" >β-Cat shRNA</text>
<text x="222.9" y="269.59999999999997" font-size="6.0" text-anchor="end" font-weight="bold" fill="#111" stroke="#111" stroke-width="0.28" ><tspan font-size="7.2" dy="0.3" letter-spacing="0.2">**</tspan><tspan dy="-0.3">=</tspan></text>
<text x="225.8" y="269.9" font-size="7.5" text-anchor="start" font-weight="bold" fill="#111" stroke="#111" stroke-width="0.28" font-style="italic">P</text>
<text x="232.8" y="269.9" font-size="7.5" text-anchor="start" font-weight="bold" fill="#111" stroke="#111" stroke-width="0.28" >&lt;</text>
<text x="239.4" y="269.9" font-size="7.5" text-anchor="start" font-weight="bold" fill="#111" stroke="#111" stroke-width="0.28" >.001</text>
<text x="222.9" y="278.2" font-size="6.0" text-anchor="end" font-weight="bold" fill="#111" stroke="#111" stroke-width="0.28" ><tspan font-size="7.2" dy="0.3" letter-spacing="0.2">*</tspan><tspan dy="-0.3">=</tspan></text>
<text x="225.8" y="278.5" font-size="7.5" text-anchor="start" font-weight="bold" fill="#111" stroke="#111" stroke-width="0.28" font-style="italic">P</text>
<text x="232.8" y="278.5" font-size="7.5" text-anchor="start" font-weight="bold" fill="#111" stroke="#111" stroke-width="0.28" >&lt;</text>
<text x="239.4" y="278.5" font-size="7.5" text-anchor="start" font-weight="bold" fill="#111" stroke="#111" stroke-width="0.28" >.01</text>
<text transform="translate(191.2,304.2) rotate(-90)" font-size="7.4" text-anchor="middle" font-weight="normal" fill="#111" stroke="#111" stroke-width="0.22"><tspan font-size="5.2" dy="-2.2">3</tspan><tspan dy="2.2">H-Thy Incorporation</tspan></text>
<text x="358.2" y="264.6" font-size="11.4" text-anchor="start" font-weight="bold" fill="#111" stroke="#111" stroke-width="0.28" >F</text>
<text x="404" y="278.5" font-size="7" text-anchor="middle" font-weight="bold" fill="#111" stroke="#111" stroke-width="0.28" >MM1.S</text>
<line x1="386" y1="280.5" x2="423.7" y2="280.5" stroke="#222" stroke-width="1.3"/>
<text x="445.6" y="278.5" font-size="7" text-anchor="middle" font-weight="bold" fill="#111" stroke="#111" stroke-width="0.28" >RPMI8226</text>
<line x1="426.5" y1="280.5" x2="465.3" y2="280.5" stroke="#222" stroke-width="1.3"/>
<text x="487.5" y="278.5" font-size="7" text-anchor="middle" font-weight="bold" fill="#111" stroke="#111" stroke-width="0.28" >MMS1</text>
<line x1="468.8" y1="280.5" x2="507.9" y2="280.5" stroke="#222" stroke-width="1.3"/>
<text x="393.6" y="289" font-size="7" text-anchor="middle" font-weight="bold" fill="#111" stroke="#111" stroke-width="0.28" >Con</text>
<text x="414.3" y="289" font-size="7" text-anchor="middle" font-weight="bold" fill="#111" stroke="#111" stroke-width="0.28" ><tspan font-weight="normal" stroke-width="0">β</tspan>-cat</text>
<text x="435.2" y="289" font-size="7" text-anchor="middle" font-weight="bold" fill="#111" stroke="#111" stroke-width="0.28" >Con</text>
<text x="455.6" y="289" font-size="7" text-anchor="middle" font-weight="bold" fill="#111" stroke="#111" stroke-width="0.28" ><tspan font-weight="normal" stroke-width="0">β</tspan>-cat</text>
<text x="477.2" y="289" font-size="7" text-anchor="middle" font-weight="bold" fill="#111" stroke="#111" stroke-width="0.28" >Con</text>
<text x="497.5" y="289" font-size="7" text-anchor="middle" font-weight="bold" fill="#111" stroke="#111" stroke-width="0.28" ><tspan font-weight="normal" stroke-width="0">β</tspan>-cat</text>
<text x="393.7" y="297.3" font-size="7" text-anchor="middle" font-weight="bold" fill="#111" stroke="#111" stroke-width="0.28" >sh</text>
<text x="413.5" y="297.3" font-size="7" text-anchor="middle" font-weight="bold" fill="#111" stroke="#111" stroke-width="0.28" >sh</text>
<text x="435.5" y="297.3" font-size="7" text-anchor="middle" font-weight="bold" fill="#111" stroke="#111" stroke-width="0.28" >sh</text>
<text x="455.8" y="297.3" font-size="7" text-anchor="middle" font-weight="bold" fill="#111" stroke="#111" stroke-width="0.28" >sh</text>
<text x="477.3" y="297.3" font-size="7" text-anchor="middle" font-weight="bold" fill="#111" stroke="#111" stroke-width="0.28" >sh</text>
<text x="497.5" y="297.3" font-size="7" text-anchor="middle" font-weight="bold" fill="#111" stroke="#111" stroke-width="0.28" >sh</text>
<rect x="382.6" y="299.1" width="125.9" height="15.2" fill="#fbfbfb" stroke="#3a3a3a" stroke-width="1.0"/>
<rect x="382.6" y="318.2" width="125.9" height="14.8" fill="#fbfbfb" stroke="#3a3a3a" stroke-width="1.0"/>
<g filter="url(#blur1)"><ellipse cx="395" cy="305.6" rx="10" ry="2.2" fill="#404040"/><ellipse cx="389" cy="302.5" rx="5.5" ry="2.4" fill="#8a8a8a"/><ellipse cx="414" cy="307" rx="7" ry="2" fill="#ececec"/><ellipse cx="438" cy="306.8" rx="10" ry="3.4" fill="#a8a8a8"/><ellipse cx="436" cy="305.5" rx="6" ry="1.5" fill="#989898"/><ellipse cx="455" cy="307" rx="7" ry="4.5" fill="#c8c8c8"/><ellipse cx="497" cy="307" rx="7" ry="2" fill="#eeeeee"/></g>
<path d="M468,311 C468,305.5 471,304.6 476.5,304.6 C482,304.6 485.5,305.5 485.5,310 L485.5,312 L468,312 Z" fill="#ececec" stroke="#9a9a9a" stroke-width="1.5" filter="url(#blur1)"/>
<path d="M383.8,325 C395,324.2 410,322.2 425,321 C440,320.3 455,320.4 470,321 C485,321.5 498,321.8 508,322 L508,328 C495,328.1 480,328.6 465,328.8 C450,328.9 435,329.1 425,329.1 C412,329.8 398,331.3 383.8,331.6 Z" fill="#303030" filter="url(#blur2)"/>
<text x="379.6" y="308.8" font-size="7.5" text-anchor="end" font-weight="bold" fill="#111" stroke="#111" stroke-width="0.28" ><tspan font-weight="normal" stroke-width="0">β</tspan>- cat</text>
<text x="379.6" y="328" font-size="7.5" text-anchor="end" font-weight="bold" fill="#111" stroke="#111" stroke-width="0.28" >Actin</text>
<text x="0.1" y="375.6" font-size="11.2" text-anchor="start" font-weight="bold" fill="#111" stroke="#111" stroke-width="0.28" >G</text>
<line x1="32.4" y1="396.1" x2="32.4" y2="476.6" stroke="#222" stroke-width="1.1"/>
<line x1="31.9" y1="476.1" x2="160" y2="476.1" stroke="#222" stroke-width="1.2"/>
<line x1="30.4" y1="476.1" x2="32.4" y2="476.1" stroke="#222" stroke-width="0.8"/>
<text x="28.799999999999997" y="478.1" font-size="6.0" text-anchor="end" font-weight="normal" fill="#111" font-style="italic" stroke="#111" stroke-width="0.25">0</text>
<line x1="30.4" y1="449.43333333333334" x2="32.4" y2="449.43333333333334" stroke="#222" stroke-width="0.8"/>
<text x="28.799999999999997" y="451.43333333333334" font-size="6.0" text-anchor="end" font-weight="normal" fill="#111" font-style="italic" stroke="#111" stroke-width="0.25">250</text>
<line x1="30.4" y1="422.7666666666667" x2="32.4" y2="422.7666666666667" stroke="#222" stroke-width="0.8"/>
<text x="28.799999999999997" y="424.7666666666667" font-size="6.0" text-anchor="end" font-weight="normal" fill="#111" font-style="italic" stroke="#111" stroke-width="0.25">500</text>
<line x1="30.4" y1="396.1" x2="32.4" y2="396.1" stroke="#222" stroke-width="0.8"/>
<text x="28.799999999999997" y="398.1" font-size="6.0" text-anchor="end" font-weight="normal" fill="#111" font-style="italic" stroke="#111" stroke-width="0.25">750</text>
<rect x="44.050000000000004" y="405.40333333333336" width="20.700000000000003" height="70.69666666666664" fill="#6a6a6a" stroke="#3c3c3c" stroke-width="0.9"/>
<line x1="54.400000000000006" y1="404.9533333333334" x2="54.400000000000006" y2="402.6066666666667" stroke="#222" stroke-width="0.9"/>
<line x1="49.00000000000001" y1="402.6066666666667" x2="59.800000000000004" y2="402.6066666666667" stroke="#222" stroke-width="0.9"/>
<rect x="65.65" y="419.27000000000004" width="20.800000000000004" height="56.82999999999997" fill="#e6e6e6" stroke="#6e6e6e" stroke-width="0.9"/>
<line x1="76.05000000000001" y1="418.82000000000005" x2="76.05000000000001" y2="417.11333333333334" stroke="#222" stroke-width="0.9"/>
<line x1="70.62500000000001" y1="417.11333333333334" x2="81.47500000000001" y2="417.11333333333334" stroke="#222" stroke-width="0.9"/>
<rect x="108.75" y="435.48333333333335" width="20.999999999999993" height="40.61666666666666" fill="#6a6a6a" stroke="#3c3c3c" stroke-width="0.9"/>
<line x1="119.25" y1="435.03333333333336" x2="119.25" y2="433.9666666666667" stroke="#222" stroke-width="0.9"/>
<line x1="113.775" y1="433.9666666666667" x2="124.725" y2="433.9666666666667" stroke="#222" stroke-width="0.9"/>
<rect x="130.64999999999998" y="447.2166666666667" width="20.900000000000013" height="28.883333333333315" fill="#e6e6e6" stroke="#6e6e6e" stroke-width="0.9"/>
<line x1="141.1" y1="446.7666666666667" x2="141.1" y2="445.27333333333337" stroke="#222" stroke-width="0.9"/>
<line x1="135.64999999999998" y1="445.27333333333337" x2="146.55" y2="445.27333333333337" stroke="#222" stroke-width="0.9"/>
<polygon points="73.35,411.05 74.08,412.80 75.97,412.95 74.53,414.18 74.97,416.02 73.35,415.04 71.73,416.02 72.17,414.18 70.73,412.95 72.62,412.80" fill="#111"/>
<polygon points="78.65,411.05 79.38,412.80 81.27,412.95 79.83,414.18 80.27,416.02 78.65,415.04 77.03,416.02 77.47,414.18 76.03,412.95 77.92,412.80" fill="#111"/>
<polygon points="138.45,439.25 139.18,441.00 141.07,441.15 139.63,442.38 140.07,444.22 138.45,443.24 136.83,444.22 137.27,442.38 135.83,441.15 137.72,441.00" fill="#111"/>
<polygon points="143.75,439.25 144.48,441.00 146.37,441.15 144.93,442.38 145.37,444.22 143.75,443.24 142.13,444.22 142.57,442.38 141.13,441.15 143.02,441.00" fill="#111"/>
<line x1="65.2" y1="476.1" x2="65.2" y2="478.1" stroke="#222" stroke-width="0.8"/>
<text x="65.2" y="484.4" font-size="5.9" text-anchor="middle" font-weight="bold" fill="#111" stroke="#111" stroke-width="0.28" letter-spacing="0.05">Primary 1</text>
<line x1="130.2" y1="476.1" x2="130.2" y2="478.1" stroke="#222" stroke-width="0.8"/>
<text x="130.2" y="484.4" font-size="5.9" text-anchor="middle" font-weight="bold" fill="#111" stroke="#111" stroke-width="0.28" letter-spacing="0.05">Primary 2</text>
<rect x="114.8" y="394.5" width="12.6" height="3.7" fill="#6a6a6a" stroke="#333" stroke-width="0.6"/>
<rect x="114.8" y="403.9" width="12.6" height="3.7" fill="#e6e6e6" stroke="#666" stroke-width="0.6"/>
<text x="128.9" y="398.2" font-size="5.9" text-anchor="start" font-weight="bold" fill="#111" stroke="#111" stroke-width="0.28" letter-spacing="0.13">Control shRNA</text>
<text x="128.9" y="407.7" font-size="5.9" text-anchor="start" font-weight="bold" fill="#111" stroke="#111" stroke-width="0.28" letter-spacing="0.13">β-Cat shRNA</text>
<text x="125.9" y="419.7" font-size="6.08" text-anchor="end" font-weight="bold" fill="#111" stroke="#111" stroke-width="0.28" ><tspan font-size="7.2" dy="0.3" letter-spacing="0.2">**</tspan><tspan dy="-0.3">=</tspan></text>
<text x="128.8" y="420" font-size="7.6" text-anchor="start" font-weight="bold" fill="#111" stroke="#111" stroke-width="0.28" font-style="italic">P</text>
<text x="135.8" y="420" font-size="7.6" text-anchor="start" font-weight="bold" fill="#111" stroke="#111" stroke-width="0.28" >&lt;</text>
<text x="142.4" y="420" font-size="7.6" text-anchor="start" font-weight="bold" fill="#111" stroke="#111" stroke-width="0.28" >.001</text>
<text transform="translate(10.9,436.2) rotate(-90)" font-size="7.4" text-anchor="middle" font-weight="normal" fill="#111" stroke="#111" stroke-width="0.22"><tspan font-size="5.2" dy="-2.2">3</tspan><tspan dy="2.2">H-Thy Incorporation</tspan></text>
<text x="183.3" y="375.7" font-size="11.4" text-anchor="start" font-weight="bold" fill="#111" stroke="#111" stroke-width="0.28" >H</text>
<line x1="207.5" y1="368.5" x2="207.5" y2="475.5" stroke="#777" stroke-width="0.8"/>
<line x1="207.5" y1="475.5" x2="316.5" y2="475.5" stroke="#777" stroke-width="0.8"/>
<line x1="206.2" y1="475.5" x2="207.5" y2="475.5" stroke="#777" stroke-width="0.5"/>
<line x1="206.2" y1="472.3" x2="207.5" y2="472.3" stroke="#777" stroke-width="0.5"/>
<line x1="206.2" y1="469.1" x2="207.5" y2="469.1" stroke="#777" stroke-width="0.5"/>
<line x1="206.2" y1="465.9" x2="207.5" y2="465.9" stroke="#777" stroke-width="0.5"/>
<line x1="206.2" y1="462.7" x2="207.5" y2="462.7" stroke="#777" stroke-width="0.5"/>
<line x1="206.2" y1="459.5" x2="207.5" y2="459.5" stroke="#777" stroke-width="0.5"/>
<line x1="206.2" y1="456.3" x2="207.5" y2="456.3" stroke="#777" stroke-width="0.5"/>
<line x1="206.2" y1="453.1" x2="207.5" y2="453.1" stroke="#777" stroke-width="0.5"/>
<line x1="206.2" y1="449.9" x2="207.5" y2="449.9" stroke="#777" stroke-width="0.5"/>
<line x1="206.2" y1="446.7" x2="207.5" y2="446.7" stroke="#777" stroke-width="0.5"/>
<line x1="206.2" y1="443.5" x2="207.5" y2="443.5" stroke="#777" stroke-width="0.5"/>
<line x1="206.2" y1="440.3" x2="207.5" y2="440.3" stroke="#777" stroke-width="0.5"/>
<line x1="206.2" y1="437.1" x2="207.5" y2="437.1" stroke="#777" stroke-width="0.5"/>
<line x1="206.2" y1="433.9" x2="207.5" y2="433.9" stroke="#777" stroke-width="0.5"/>
<line x1="206.2" y1="430.7" x2="207.5" y2="430.7" stroke="#777" stroke-width="0.5"/>
<line x1="206.2" y1="427.5" x2="207.5" y2="427.5" stroke="#777" stroke-width="0.5"/>
<line x1="206.2" y1="424.3" x2="207.5" y2="424.3" stroke="#777" stroke-width="0.5"/>
<line x1="206.2" y1="421.1" x2="207.5" y2="421.1" stroke="#777" stroke-width="0.5"/>
<line x1="206.2" y1="417.9" x2="207.5" y2="417.9" stroke="#777" stroke-width="0.5"/>
<line x1="206.2" y1="414.7" x2="207.5" y2="414.7" stroke="#777" stroke-width="0.5"/>
<line x1="206.2" y1="411.5" x2="207.5" y2="411.5" stroke="#777" stroke-width="0.5"/>
<line x1="206.2" y1="408.3" x2="207.5" y2="408.3" stroke="#777" stroke-width="0.5"/>
<line x1="206.2" y1="405.1" x2="207.5" y2="405.1" stroke="#777" stroke-width="0.5"/>
<line x1="206.2" y1="401.9" x2="207.5" y2="401.9" stroke="#777" stroke-width="0.5"/>
<line x1="206.2" y1="398.7" x2="207.5" y2="398.7" stroke="#777" stroke-width="0.5"/>
<line x1="206.2" y1="395.5" x2="207.5" y2="395.5" stroke="#777" stroke-width="0.5"/>
<line x1="206.2" y1="392.3" x2="207.5" y2="392.3" stroke="#777" stroke-width="0.5"/>
<line x1="206.2" y1="389.1" x2="207.5" y2="389.1" stroke="#777" stroke-width="0.5"/>
<line x1="206.2" y1="385.9" x2="207.5" y2="385.9" stroke="#777" stroke-width="0.5"/>
<line x1="206.2" y1="382.7" x2="207.5" y2="382.7" stroke="#777" stroke-width="0.5"/>
<line x1="206.2" y1="379.5" x2="207.5" y2="379.5" stroke="#777" stroke-width="0.5"/>
<line x1="206.2" y1="376.3" x2="207.5" y2="376.3" stroke="#777" stroke-width="0.5"/>
<line x1="206.2" y1="373.1" x2="207.5" y2="373.1" stroke="#777" stroke-width="0.5"/>
<line x1="206.2" y1="369.9" x2="207.5" y2="369.9" stroke="#777" stroke-width="0.5"/>
<line x1="207.5" y1="475.5" x2="207.5" y2="477.0" stroke="#777" stroke-width="0.5"/>
<text x="207.5" y="481.9" font-size="4.0" text-anchor="middle" font-weight="normal" fill="#555" >0</text>
<line x1="228.87254901960785" y1="475.5" x2="228.87254901960785" y2="477.0" stroke="#777" stroke-width="0.5"/>
<text x="228.87254901960785" y="481.9" font-size="4.0" text-anchor="middle" font-weight="normal" fill="#555" >50</text>
<line x1="250.2450980392157" y1="475.5" x2="250.2450980392157" y2="477.0" stroke="#777" stroke-width="0.5"/>
<text x="250.2450980392157" y="481.9" font-size="4.0" text-anchor="middle" font-weight="normal" fill="#555" >100</text>
<line x1="271.61764705882354" y1="475.5" x2="271.61764705882354" y2="477.0" stroke="#777" stroke-width="0.5"/>
<text x="271.61764705882354" y="481.9" font-size="4.0" text-anchor="middle" font-weight="normal" fill="#555" >150</text>
<line x1="292.9901960784314" y1="475.5" x2="292.9901960784314" y2="477.0" stroke="#777" stroke-width="0.5"/>
<text x="292.9901960784314" y="481.9" font-size="4.0" text-anchor="middle" font-weight="normal" fill="#555" >200</text>
<line x1="314.3627450980392" y1="475.5" x2="314.3627450980392" y2="477.0" stroke="#777" stroke-width="0.5"/>
<text x="314.3627450980392" y="481.9" font-size="4.0" text-anchor="middle" font-weight="normal" fill="#555" >250</text>
<text transform="translate(204.9,457.1) rotate(-90)" font-size="3.8" text-anchor="middle" fill="#666">100</text>
<text transform="translate(204.9,439) rotate(-90)" font-size="3.8" text-anchor="middle" fill="#666">200</text>
<text transform="translate(204.9,420.8) rotate(-90)" font-size="3.8" text-anchor="middle" fill="#666">300</text>
<text transform="translate(204.9,402.7) rotate(-90)" font-size="3.8" text-anchor="middle" fill="#666">400</text>
<text transform="translate(204.9,384.6) rotate(-90)" font-size="3.8" text-anchor="middle" fill="#666">500</text>
<path d="M224.9,475.4 L226.2,458 L227.2,425 L227.9,400 L228.7,400 L229.4,430 L230.2,455 L230.9,468 L231.2,475.4 Z" fill="#d01818"/><path d="M228.8,475.4 L230.4,462.6 L233,462.4 L243,462.6 L245.8,458 L247.2,475.4 Z" fill="url(#hatch)"/><path d="M245.6,475.4 L247.2,458 L249.3,452.6 L251,462 L253.6,475.4 Z" fill="#1ed01e"/><polyline points="210,475.3 222,475.1 224.6,474 226.2,452 227.4,410 228.3,383.5 229.3,410 230.4,447 231.6,460 233.5,461.8 236,461.4 240,461.8 243.5,461 245.4,455 247.2,446.5 248.6,444.8 249.8,448 251.2,462 253.5,474 256,475 270,474.6 290,474.5 300,474 310,474.7" fill="none" stroke="#3a3a3a" stroke-width="0.75"/>
<text x="265.9" y="375.8" font-size="9.2" text-anchor="middle" font-weight="bold" fill="#111" stroke="#111" stroke-width="0.28" >Control shRNA</text>
<rect x="274.2" y="385.5" width="10.800000000000011" height="7" fill="#e41414" stroke="#333" stroke-width="0.6"/>
<rect x="274.2" y="395.7" width="10.800000000000011" height="7" fill="#1ee01e" stroke="#333" stroke-width="0.6"/>
<rect x="274.2" y="404.8" width="10.800000000000011" height="7" fill="url(#hatchL)" stroke="#222" stroke-width="0.8"/>
<text x="317.2" y="392.8" font-size="7.6" text-anchor="end" font-weight="bold" fill="#111" stroke="#111" stroke-width="0.28" >G1=36%</text>
<text x="317.2" y="401.4" font-size="7.6" text-anchor="end" font-weight="bold" fill="#111" stroke="#111" stroke-width="0.28" >G2=19%</text>
<text x="317.2" y="410.1" font-size="7.6" text-anchor="end" font-weight="bold" fill="#111" stroke="#111" stroke-width="0.28" >S=45%</text>
<text transform="translate(198.0,424.5) rotate(-90)" font-size="7" text-anchor="middle" font-weight="bold" fill="#111">Cell Number</text>
<text x="264.5" y="489.6" font-size="7.7" text-anchor="middle" font-weight="bold" fill="#111" stroke="#111" stroke-width="0.28" >Channels (FL2-A)</text>
<line x1="380.4" y1="367.3" x2="380.4" y2="476.1" stroke="#777" stroke-width="0.8"/>
<line x1="380.4" y1="476.1" x2="489.5" y2="476.1" stroke="#777" stroke-width="0.8"/>
<line x1="379.09999999999997" y1="476.1" x2="380.4" y2="476.1" stroke="#777" stroke-width="0.5"/>
<line x1="379.09999999999997" y1="472.90000000000003" x2="380.4" y2="472.90000000000003" stroke="#777" stroke-width="0.5"/>
<line x1="379.09999999999997" y1="469.70000000000005" x2="380.4" y2="469.70000000000005" stroke="#777" stroke-width="0.5"/>
<line x1="379.09999999999997" y1="466.5" x2="380.4" y2="466.5" stroke="#777" stroke-width="0.5"/>
<line x1="379.09999999999997" y1="463.3" x2="380.4" y2="463.3" stroke="#777" stroke-width="0.5"/>
<line x1="379.09999999999997" y1="460.1" x2="380.4" y2="460.1" stroke="#777" stroke-width="0.5"/>
<line x1="379.09999999999997" y1="456.90000000000003" x2="380.4" y2="456.90000000000003" stroke="#777" stroke-width="0.5"/>
<line x1="379.09999999999997" y1="453.70000000000005" x2="380.4" y2="453.70000000000005" stroke="#777" stroke-width="0.5"/>
<line x1="379.09999999999997" y1="450.5" x2="380.4" y2="450.5" stroke="#777" stroke-width="0.5"/>
<line x1="379.09999999999997" y1="447.3" x2="380.4" y2="447.3" stroke="#777" stroke-width="0.5"/>
<line x1="379.09999999999997" y1="444.1" x2="380.4" y2="444.1" stroke="#777" stroke-width="0.5"/>
<line x1="379.09999999999997" y1="440.90000000000003" x2="380.4" y2="440.90000000000003" stroke="#777" stroke-width="0.5"/>
<line x1="379.09999999999997" y1="437.70000000000005" x2="380.4" y2="437.70000000000005" stroke="#777" stroke-width="0.5"/>
<line x1="379.09999999999997" y1="434.5" x2="380.4" y2="434.5" stroke="#777" stroke-width="0.5"/>
<line x1="379.09999999999997" y1="431.3" x2="380.4" y2="431.3" stroke="#777" stroke-width="0.5"/>
<line x1="379.09999999999997" y1="428.1" x2="380.4" y2="428.1" stroke="#777" stroke-width="0.5"/>
<line x1="379.09999999999997" y1="424.90000000000003" x2="380.4" y2="424.90000000000003" stroke="#777" stroke-width="0.5"/>
<line x1="379.09999999999997" y1="421.70000000000005" x2="380.4" y2="421.70000000000005" stroke="#777" stroke-width="0.5"/>
<line x1="379.09999999999997" y1="418.5" x2="380.4" y2="418.5" stroke="#777" stroke-width="0.5"/>
<line x1="379.09999999999997" y1="415.3" x2="380.4" y2="415.3" stroke="#777" stroke-width="0.5"/>
<line x1="379.09999999999997" y1="412.1" x2="380.4" y2="412.1" stroke="#777" stroke-width="0.5"/>
<line x1="379.09999999999997" y1="408.90000000000003" x2="380.4" y2="408.90000000000003" stroke="#777" stroke-width="0.5"/>
<line x1="379.09999999999997" y1="405.70000000000005" x2="380.4" y2="405.70000000000005" stroke="#777" stroke-width="0.5"/>
<line x1="379.09999999999997" y1="402.5" x2="380.4" y2="402.5" stroke="#777" stroke-width="0.5"/>
<line x1="379.09999999999997" y1="399.3" x2="380.4" y2="399.3" stroke="#777" stroke-width="0.5"/>
<line x1="379.09999999999997" y1="396.1" x2="380.4" y2="396.1" stroke="#777" stroke-width="0.5"/>
<line x1="379.09999999999997" y1="392.90000000000003" x2="380.4" y2="392.90000000000003" stroke="#777" stroke-width="0.5"/>
<line x1="379.09999999999997" y1="389.70000000000005" x2="380.4" y2="389.70000000000005" stroke="#777" stroke-width="0.5"/>
<line x1="379.09999999999997" y1="386.5" x2="380.4" y2="386.5" stroke="#777" stroke-width="0.5"/>
<line x1="379.09999999999997" y1="383.3" x2="380.4" y2="383.3" stroke="#777" stroke-width="0.5"/>
<line x1="379.09999999999997" y1="380.1" x2="380.4" y2="380.1" stroke="#777" stroke-width="0.5"/>
<line x1="379.09999999999997" y1="376.90000000000003" x2="380.4" y2="376.90000000000003" stroke="#777" stroke-width="0.5"/>
<line x1="379.09999999999997" y1="373.70000000000005" x2="380.4" y2="373.70000000000005" stroke="#777" stroke-width="0.5"/>
<line x1="379.09999999999997" y1="370.5" x2="380.4" y2="370.5" stroke="#777" stroke-width="0.5"/>
<line x1="379.09999999999997" y1="367.3" x2="380.4" y2="367.3" stroke="#777" stroke-width="0.5"/>
<line x1="378.9" y1="476.1" x2="378.9" y2="477.6" stroke="#777" stroke-width="0.5"/>
<text x="378.9" y="482.5" font-size="4.0" text-anchor="middle" font-weight="normal" fill="#555" >0</text>
<line x1="400.96999999999997" y1="476.1" x2="400.96999999999997" y2="477.6" stroke="#777" stroke-width="0.5"/>
<text x="400.96999999999997" y="482.5" font-size="4.0" text-anchor="middle" font-weight="normal" fill="#555" >50</text>
<line x1="423.03999999999996" y1="476.1" x2="423.03999999999996" y2="477.6" stroke="#777" stroke-width="0.5"/>
<text x="423.03999999999996" y="482.5" font-size="4.0" text-anchor="middle" font-weight="normal" fill="#555" >100</text>
<line x1="445.11" y1="476.1" x2="445.11" y2="477.6" stroke="#777" stroke-width="0.5"/>
<text x="445.11" y="482.5" font-size="4.0" text-anchor="middle" font-weight="normal" fill="#555" >150</text>
<line x1="467.17999999999995" y1="476.1" x2="467.17999999999995" y2="477.6" stroke="#777" stroke-width="0.5"/>
<text x="467.17999999999995" y="482.5" font-size="4.0" text-anchor="middle" font-weight="normal" fill="#555" >200</text>
<line x1="489.25" y1="476.1" x2="489.25" y2="477.6" stroke="#777" stroke-width="0.5"/>
<text x="489.25" y="482.5" font-size="4.0" text-anchor="middle" font-weight="normal" fill="#555" >250</text>
<text transform="translate(377.79999999999995,459.6) rotate(-90)" font-size="3.8" text-anchor="middle" fill="#666">100</text>
<text transform="translate(377.79999999999995,443.3) rotate(-90)" font-size="3.8" text-anchor="middle" fill="#666">200</text>
<text transform="translate(377.79999999999995,426.9) rotate(-90)" font-size="3.8" text-anchor="middle" fill="#666">300</text>
<text transform="translate(377.79999999999995,411.7) rotate(-90)" font-size="3.8" text-anchor="middle" fill="#666">400</text>
<text transform="translate(377.79999999999995,396.5) rotate(-90)" font-size="3.8" text-anchor="middle" fill="#666">500</text>
<text transform="translate(377.79999999999995,381.4) rotate(-90)" font-size="3.8" text-anchor="middle" fill="#666">600</text>
<path d="M397,476 L399,455 L400,420 L400.8,379 L401.6,420 L402.6,455 L404,472 L404,476 Z" fill="#d81818"/><path d="M402.5,476 L404,468.5 L415,468.3 L418.5,470 L418.5,476 Z" fill="url(#hatch)"/><path d="M417.5,476 L419.5,458 L421.5,447 L423.5,458 L427.5,476 Z" fill="#22cc22"/><polyline points="382,476 392,475.8 396.5,474.5 398.5,458 399.8,420 400.8,378.5 401.8,420 402.8,458 404,468 407,468.3 412,468 416,468.4 418,466 419.8,456 421.4,446.8 423,456 425,468 427.5,474.8 432,475.5 450,475.3 460,474.4 463,473.8 466,475.2 488,475.6" fill="none" stroke="#555" stroke-width="0.7"/>
<text x="448.7" y="374.5" font-size="8.85" text-anchor="middle" font-weight="bold" fill="#111" stroke="#111" stroke-width="0.28" >β-Catenin shRNA</text>
<rect x="447.1" y="380.8" width="10.399999999999977" height="7" fill="#e41414" stroke="#333" stroke-width="0.6"/>
<rect x="447.1" y="390.5" width="10.399999999999977" height="7" fill="#1ee01e" stroke="#333" stroke-width="0.6"/>
<rect x="447.1" y="399.5" width="10.399999999999977" height="7" fill="url(#hatchL)" stroke="#222" stroke-width="0.8"/>
<text x="490.7" y="387.40000000000003" font-size="7.6" text-anchor="end" font-weight="bold" fill="#111" stroke="#111" stroke-width="0.28" >G1=48%</text>
<text x="490.7" y="395.7" font-size="7.6" text-anchor="end" font-weight="bold" fill="#111" stroke="#111" stroke-width="0.28" >G2=25%</text>
<text x="490.7" y="404.7" font-size="7.6" text-anchor="end" font-weight="bold" fill="#111" stroke="#111" stroke-width="0.28" >S=28%</text>
<text transform="translate(370.9,425.7) rotate(-90)" font-size="7" text-anchor="middle" font-weight="bold" fill="#111">Cell Number</text>
<text x="436.9" y="489.6" font-size="7.2" text-anchor="middle" font-weight="bold" fill="#111" stroke="#111" stroke-width="0.28" >Channels (FL2-A)</text></svg></body></html>
